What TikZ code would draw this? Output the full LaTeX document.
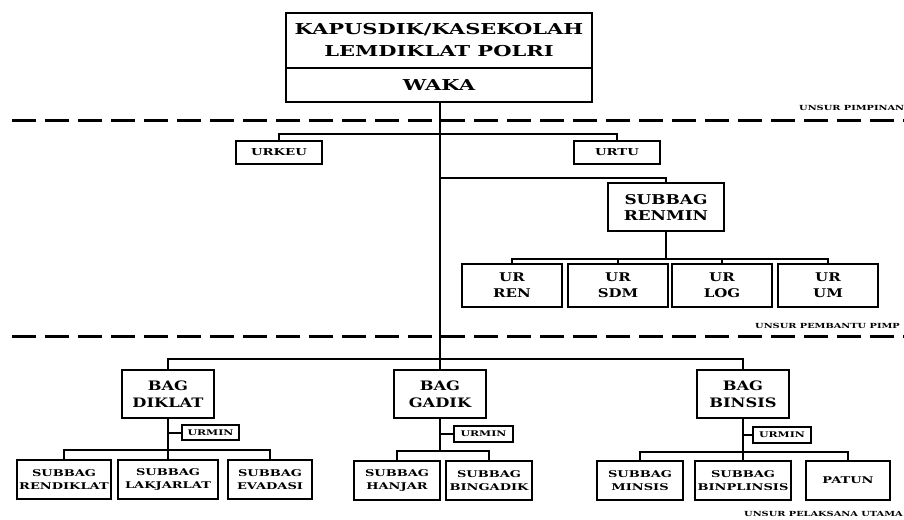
\documentclass[tikz,border=0pt]{standalone}
\usepackage{fontspec}
\setmainfont{DejaVu Serif}[FakeStretch=1.25]
\newfontfamily\wfont{DejaVu Serif}[FakeStretch=1.4]
\newcommand{\fs}[2]{\bfseries\fontsize{#1}{#2}\selectfont}
\newcommand{\wfs}[2]{\wfont\bfseries\fontsize{#1}{#2}\selectfont}
\pgfdeclarelayer{bg}
\pgfsetlayers{bg,main}
\begin{document}
\begin{tikzpicture}[x=1pt,y=-1pt,
  box/.style={draw, line width=2.4pt, align=center, inner sep=0pt, fill=white},
  conn/.style={line width=2pt},
  sep/.style={line width=3pt, dash pattern=on 24pt off 9pt},
  lbl/.style={font=\wfs{7}{8}, anchor=west, inner sep=0pt}]
\useasboundingbox (0,0) rectangle (904,519);

% labels of the levels
\node[lbl] (l1) at (799,108) {UNSUR PIMPINAN};
\node[lbl] (l2) at (755,326) {UNSUR PEMBANTU PIMP};
\node[lbl] (l3) at (744,514) {UNSUR PELAKSANA UTAMA};

% top
\node[box, minimum width=306pt, minimum height=55pt, font=\wfs{15}{22}] (kapus) at (439,40.5) {KAPUSDIK/KASEKOLAH\\LEMDIKLAT POLRI};
\node[box, minimum width=306pt, minimum height=34pt, font=\wfs{15}{18}] (waka) at (439,85) {WAKA};

% staff
\node[box, minimum width=86pt, minimum height=23pt, font=\wfs{9.5}{12}] (urkeu) at (279,152.5) {URKEU};
\node[box, minimum width=86pt, minimum height=23pt, font=\wfs{9.5}{12}] (urtu) at (617,152.5) {URTU};
\node[box, minimum width=116pt, minimum height=48pt, font=\fs{13.5}{16}] (renmin) at (666,207) {SUBBAG\\RENMIN};
\node[box, minimum width=100pt, minimum height=43pt, font=\fs{12}{16}] (urren) at (512,285.5) {UR\\REN};
\node[box, minimum width=100pt, minimum height=43pt, font=\fs{12}{16}] (ursdm) at (618,285.5) {UR\\SDM};
\node[box, minimum width=100pt, minimum height=43pt, font=\fs{12}{16}] (urlog) at (722,285.5) {UR\\LOG};
\node[box, minimum width=100pt, minimum height=43pt, font=\fs{12}{16}] (urum) at (828,285.5) {UR\\UM};

% bagian
\node[box, minimum width=92pt, minimum height=48pt, font=\fs{13}{17}] (diklat) at (168,394) {BAG\\DIKLAT};
\node[box, minimum width=92pt, minimum height=48pt, font=\fs{13}{17}] (gadik) at (440,394) {BAG\\GADIK};
\node[box, minimum width=92pt, minimum height=48pt, font=\fs{13}{17}] (binsis) at (743,394) {BAG\\BINSIS};

\node[box, line width=2pt, minimum width=57pt, minimum height=15pt, font=\wfs{7.8}{9}] (urmin1) at (210.5,432.5) {URMIN};
\node[box, line width=2pt, minimum width=59pt, minimum height=16pt, font=\wfs{7.8}{9}] (urmin2) at (483.5,433.5) {URMIN};
\node[box, line width=2pt, minimum width=58pt, minimum height=16pt, font=\wfs{7.8}{9}] (urmin3) at (782,435) {URMIN};

\node[box, minimum width=94pt, minimum height=39pt, font=\wfs{9.3}{13}] (rendiklat) at (64,479.5) {SUBBAG\\RENDIKLAT};
\node[box, minimum width=100pt, minimum height=39pt, font=\wfs{9.3}{13}] (lakjarlat) at (168,479.5) {SUBBAG\\LAKJARLAT};
\node[box, minimum width=84pt, minimum height=39pt, font=\wfs{9.3}{13}] (evadasi) at (270,479.5) {SUBBAG\\EVADASI};
\node[box, minimum width=86pt, minimum height=39pt, font=\wfs{9.3}{13}] (hanjar) at (397,480.5) {SUBBAG\\HANJAR};
\node[box, minimum width=86pt, minimum height=39pt, font=\wfs{9.3}{13}] (bingadik) at (489,480.5) {SUBBAG\\BINGADIK};
\node[box, minimum width=86pt, minimum height=39pt, font=\wfs{9.3}{13}] (minsis) at (640,480.5) {SUBBAG\\MINSIS};
\node[box, minimum width=96pt, minimum height=39pt, font=\wfs{9.3}{13}] (binplinsis) at (743,480.5) {SUBBAG\\BINPLINSIS};
\node[box, minimum width=84pt, minimum height=39pt, font=\wfs{9.3}{13}] (patun) at (848,480.5) {PATUN};

% connectors
\coordinate (j0) at (waka.south -| gadik.north);
\coordinate (j1) at (440,178);
\coordinate (rb) at (666,259);
\coordinate (bb) at (440,359);
\begin{pgfonlayer}{bg}
\fill[white] (0,0) rectangle (904,519);
\draw[sep] (12,120) -- (904,120);
\draw[sep] (12,336) -- (904,336);
\draw[conn] (j0) -- (gadik.north);
\draw[conn] (urkeu.north) -- ++(0,-6) -| (urtu.north);
\draw[conn] (j1) -| (renmin.north);
\draw[conn] (renmin.south) -- (rb);
\draw[conn] (urren.north) |- (rb) -| (urum.north);
\draw[conn] (ursdm.north) -- (ursdm.north |- rb);
\draw[conn] (urlog.north) -- (urlog.north |- rb);
\draw[conn] (diklat.north) |- (bb) -| (binsis.north);

\draw[conn] (diklat.south) -- (lakjarlat.north);
\draw[conn] (diklat.south |- urmin1.west) -- (urmin1.west);
\draw[conn] (rendiklat.north) -- ++(0,-9) -| (evadasi.north);

\draw[conn] (gadik.south) -- (gadik.south |- 0,452);
\draw[conn] (gadik.south |- urmin2.west) -- (urmin2.west);
\draw[conn] (hanjar.north) -- ++(0,-9) -| (bingadik.north);

\draw[conn] (binsis.south) -- (binplinsis.north);
\draw[conn] (binsis.south |- urmin3.west) -- (urmin3.west);
\draw[conn] (minsis.north) -- ++(0,-8) -| (patun.north);
\end{pgfonlayer}
\end{tikzpicture}
\end{document}
